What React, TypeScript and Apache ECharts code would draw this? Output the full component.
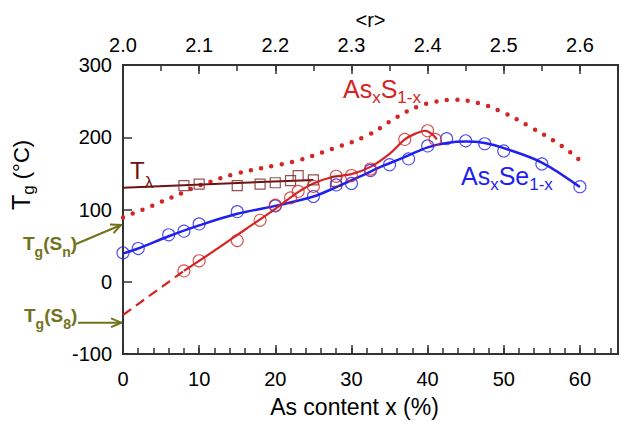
import React, { useEffect, useRef } from "react";
import * as echarts from "echarts";

// ---- data ----
const xLabels = ["0", "10", "20", "30", "40", "50", "60"];
const rLabels = ["2.0", "2.1", "2.2", "2.3", "2.4", "2.5", "2.6"];

// As_xSe_1-x measured points
const seX = [0, 2, 6, 8, 10, 15, 20, 25, 28, 30, 32.5, 35, 37.5, 40, 42.5, 45, 47.5, 50, 55, 60];
const seY = [40, 46, 65, 70, 80, 97, 105, 118, 134, 136, 154, 162, 170, 188, 198, 195, 191, 181, 163, 131.5];
// As_xSe_1-x fit curve
const seFit = [
  [0, 39], [2, 46], [6, 63], [10, 78], [15, 94], [20, 105], [25, 118], [28, 131], [31, 145],
  [33.6, 158], [35, 164], [37.5, 175], [40, 186], [42.5, 192], [45, 194], [47.5, 192],
  [50, 185], [55, 165], [60, 131],
];

// As_xS_1-x measured points
const sX = [8, 10, 15, 18, 20, 22, 23, 25, 28, 30, 32.5, 37, 40, 41];
const sY = [15, 29, 57, 85, 106, 116, 125, 132, 146, 147, 156, 197, 209, 197];
// As_xS_1-x fit curve
const sFit = [
  [8, 15], [12, 43], [16, 72], [20, 101], [23, 124], [25, 136], [27.5, 145], [30, 149],
  [32.5, 159], [35, 177], [37, 197], [38.4, 205], [39.7, 209], [40.5, 205], [41.2, 197],
];
// extrapolation to T_g(S8)
const sExtrap = [[0, -46], [8, 15]];

// dotted curve
const dotted = [
  [0, 89], [4, 106], [8, 124], [10, 133], [15, 150], [20, 161], [23, 168], [27.5, 184],
  [32, 202], [36, 228], [38.6, 242], [41, 249], [43.5, 252], [46.7, 247], [49.8, 235],
  [53.7, 213], [57.6, 188], [60, 168],
];

// T_lambda
const tlX = [8, 10, 15, 18, 20, 22, 23, 25, 28];
const tlY = [133, 135, 133, 135, 137, 140, 147, 141, 139];
const tlLine = [[0, 130], [25, 141]];

const BLUE = "#1f1fef";
const RED = "#d42424";
const DRED = "#6e1212";
const OLIVE = "#72721c";
const AXIS = "#333333";
const FONT = "'Liberation Sans', Arial, Helvetica, sans-serif";

const zip = (xs: number[], ys: number[]) => xs.map((x, i) => [x, ys[i]]);

// rich-text helper: main tokens "n", subscript tokens "s" (lowered via top padding)
const subRich = (fill: string, big: number, small: number, pad: number, weight = "normal") => ({
  n: { fontSize: big, fontFamily: FONT, fill, fontWeight: weight },
  s: { fontSize: small, fontFamily: FONT, fill, fontWeight: weight, padding: [pad, 0, 0, 0] },
});

export default function App() {
  const ref = useRef<HTMLDivElement>(null);
  useEffect(() => {
    if (!ref.current) return;
    const chart = echarts.init(ref.current, undefined, { renderer: "svg" });

    const tickStyle = { color: AXIS, width: 1.5 };
    const labelBase = { color: "#000", fontSize: 20, fontFamily: FONT };

    const option: any = {
      animation: false,
      grid: {
        left: 123, right: 3, top: 65, bottom: 62,
        show: true, borderColor: AXIS, borderWidth: 2, backgroundColor: "transparent",
      },
      xAxis: [
        {
          type: "value", position: "bottom", min: 0, max: 65, interval: 10,
          axisLine: { show: true, onZero: false, lineStyle: { color: AXIS, width: 2 } },
          axisTick: { show: true, inside: true, length: 9, lineStyle: tickStyle },
          axisLabel: {
            ...labelBase, margin: 15, showMaxLabel: false,
            formatter: (v: number) => (v % 10 === 0 ? xLabels[v / 10] ?? "" : ""),
          },
          splitLine: { show: false },
          name: "As content x (%)", nameLocation: "middle", nameGap: 41,
          nameTextStyle: { color: "#000", fontSize: 23, fontFamily: FONT, padding: [0, 32, 0, 0] },
        },
        {
          type: "value", position: "top", min: 0, max: 65, interval: 10,
          axisLine: { show: true, onZero: false, lineStyle: { color: AXIS, width: 2 } },
          axisTick: { show: true, inside: true, length: 9, lineStyle: tickStyle },
          axisLabel: {
            ...labelBase, margin: 10, showMaxLabel: false,
            formatter: (v: number) => (v % 10 === 0 ? rLabels[v / 10] ?? "" : ""),
          },
          splitLine: { show: false },
          name: "<r>", nameLocation: "middle", nameGap: 33,
          nameTextStyle: { color: "#000", fontSize: 20, fontFamily: FONT },
        },
        {
          // minor ticks, bottom (every 2 %)
          type: "value", position: "bottom", min: 0, max: 65, interval: 2,
          axisLine: { show: false, onZero: false }, axisLabel: { show: false }, splitLine: { show: false },
          axisTick: { show: true, inside: true, length: 6, lineStyle: tickStyle },
        },
        {
          // minor ticks, top (every 0.05)
          type: "value", position: "top", min: 0, max: 65, interval: 5,
          axisLine: { show: false, onZero: false }, axisLabel: { show: false }, splitLine: { show: false },
          axisTick: { show: true, inside: true, length: 6, lineStyle: tickStyle },
        },
      ],
      yAxis: {
        type: "value", min: -100, max: 300, interval: 100,
        axisLine: { show: true, onZero: false, lineStyle: { color: AXIS, width: 2 } },
        axisTick: { show: true, inside: true, length: 9, lineStyle: tickStyle },
        axisLabel: { ...labelBase, margin: 11 },
        splitLine: { show: false },
      },
      series: [
        {
          name: "dotted", type: "line", data: dotted, smooth: 0.4, symbol: "none",
          lineStyle: { color: RED, width: 4.5, type: [0, 10.5], cap: "round" }, z: 2,
        },
        {
          name: "Tλ fit", type: "line", data: tlLine, symbol: "none",
          lineStyle: { color: DRED, width: 2 }, z: 3,
        },
        {
          name: "Tλ", type: "scatter", data: zip(tlX, tlY), symbol: "rect", symbolSize: 10,
          itemStyle: { color: "rgba(0,0,0,0)", borderColor: "#7a2626", borderWidth: 1.2 }, z: 4,
        },
        {
          name: "AsSe fit", type: "line", data: seFit, smooth: 0.35, symbol: "none",
          lineStyle: { color: BLUE, width: 2.5 }, z: 3,
        },
        {
          name: "AsSe", type: "scatter", data: zip(seX, seY), symbol: "circle", symbolSize: 12,
          itemStyle: { color: "rgba(0,0,0,0)", borderColor: BLUE, borderWidth: 1.1 }, z: 4,
        },
        {
          name: "AsS fit", type: "line", data: sFit, smooth: 0.35, symbol: "none",
          lineStyle: { color: RED, width: 2.2 }, z: 3,
        },
        {
          name: "AsS extrap", type: "line", data: sExtrap, symbol: "none",
          lineStyle: { color: RED, width: 2.2, type: [10, 6] }, z: 3,
        },
        {
          name: "AsS", type: "scatter", data: zip(sX, sY), symbol: "circle", symbolSize: 12,
          itemStyle: { color: "rgba(0,0,0,0)", borderColor: RED, borderWidth: 1.1 }, z: 4,
        },
      ],
      graphic: [
        {
          type: "text", x: 21, y: 175, rotation: Math.PI / 2,
          style: {
            text: "{n|T}{s|g}{m| (°C)}", align: "center", verticalAlign: "middle", fill: "#000",
            rich: {
              ...subRich("#000", 25, 17, 15),
              m: { fontSize: 22, fontFamily: FONT, fill: "#000" },
            },
          },
        },
        {
          type: "text", x: 343, y: 89,
          style: {
            text: "{n|As}{s|x}{n|S}{s|1-x}", align: "left", verticalAlign: "middle", fill: RED,
            rich: subRich(RED, 25, 17, 16),
          },
        },
        {
          type: "text", x: 461, y: 176,
          style: {
            text: "{n|As}{s|x}{n|Se}{s|1-x}", align: "left", verticalAlign: "middle", fill: BLUE,
            rich: subRich(BLUE, 25, 17, 16),
          },
        },
        {
          type: "text", x: 130, y: 170,
          style: {
            text: "{n|T}{s|λ}", align: "left", verticalAlign: "middle", fill: DRED,
            rich: subRich(DRED, 24, 17, 24),
          },
        },
        {
          type: "text", x: 23, y: 243.5,
          style: {
            text: "{n|T}{s|g}{n|(S}{s|n}{n|)}", align: "left", verticalAlign: "middle", fill: OLIVE,
            rich: subRich(OLIVE, 19, 14, 17, "bold"),
          },
        },
        {
          type: "text", x: 24, y: 315.5,
          style: {
            text: "{n|T}{s|g}{n|(S}{s|8}{n|)}", align: "left", verticalAlign: "middle", fill: OLIVE,
            rich: subRich(OLIVE, 19, 14, 17, "bold"),
          },
        },
        {
          type: "line", shape: { x1: 76, y1: 244, x2: 121, y2: 225 },
          style: { stroke: OLIVE, lineWidth: 2 },
        },
        {
          type: "polyline", shape: { points: [[110, 224.6], [121, 225], [113.6, 233.2]] },
          style: { stroke: OLIVE, lineWidth: 2, fill: null },
        },
        {
          type: "line", shape: { x1: 78, y1: 322.7, x2: 121.5, y2: 322.7 },
          style: { stroke: OLIVE, lineWidth: 2 },
        },
        {
          type: "polyline", shape: { points: [[111, 318.3], [121.5, 322.7], [111, 327.1]] },
          style: { stroke: OLIVE, lineWidth: 2, fill: null },
        },
      ],
    };
    chart.setOption(option);
    return () => chart.dispose();
  }, []);
  return <div ref={ref} style={{ width: 621, height: 423, position: "absolute", left: 0, top: 0 }} />;
}
